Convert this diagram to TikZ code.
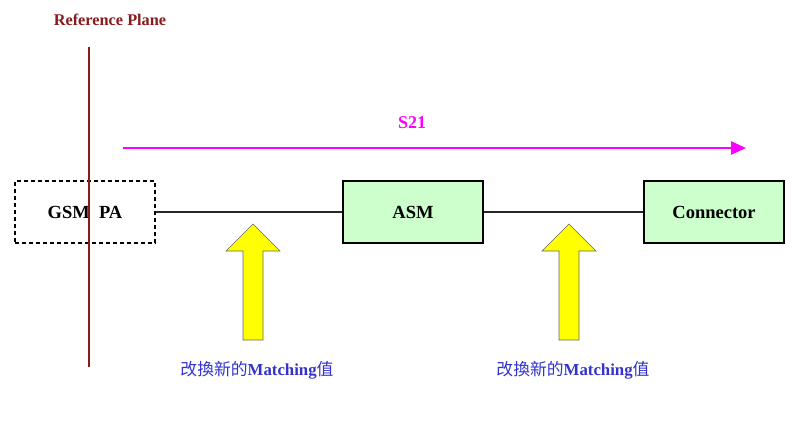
\documentclass[tikz,border=0pt]{standalone}
\usepackage{fontspec}
\setmainfont{Liberation Serif}
\newfontfamily\cjk{Noto Sans CJK TC}
\usetikzlibrary{arrows.meta}

\definecolor{planered}{RGB}{135,28,28}
\definecolor{boxgreen}{RGB}{204,255,204}
\definecolor{labelblue}{RGB}{51,51,204}
\definecolor{arrowyellow}{RGB}{255,255,0}
\definecolor{s21pink}{RGB}{255,0,255}

\begin{document}
\begin{tikzpicture}[x=1pt, y=-1pt]
	\tikzstyle{block} = [draw, line width=2.2pt, fill=boxgreen, minimum width=140pt, minimum height=62pt, inner sep=0pt, font=\fontsize{18.5}{20}\selectfont\bfseries]
	\tikzstyle{pabox} = [block, fill=white, dash pattern=on 4pt off 3pt]
	\tikzstyle{wire} = [line width=1.2pt, black!85]
	\tikzstyle{match} = [font=\fontsize{16.8}{18}\selectfont, text=labelblue, inner sep=0pt]
	\tikzstyle{push} = [fill=arrowyellow, draw=black!60, line width=0.6pt, line join=miter]
	\useasboundingbox (0,0) rectangle (800,429);
	% reference plane
	\node[text=planered, font=\fontsize{16.3}{18}\selectfont\bfseries, inner sep=0pt] (plane) at (110,20) {Reference Plane};
	\coordinate (rpT) at (89,47);
	\coordinate (rpB) at (89,367);
	% blocks
	\node[pabox] (PA) at (85,212) {GSM\ \ PA};
	\node[block] (ASM) at (413,212) {ASM};
	\node[block] (CON) at (714,212) {Connector};
	\draw [wire] (PA)--(ASM);
	\draw [wire] (ASM)--(CON);
	\draw [planered, line width=1.2pt] (rpT)--(rpB);
	% S21
	\node[text=s21pink, font=\fontsize{18}{20}\selectfont\bfseries, inner sep=0pt] (S21) at (412,123) {S21};
	\coordinate (s21a) at (123,148);
	\coordinate (s21b) at (746,148);
	\draw [s21pink, line width=2.6pt, -{Triangle[length=15pt, width=13pt]}] (s21a)--(s21b);
	% matching arrows
	\foreach \x/\n in {253/1, 569/2} {
		\draw [push] (\x-10,340) -- (\x-10,251) -- (\x-27,251) -- (\x,224) -- (\x+27,251) -- (\x+10,251) -- (\x+10,340) -- cycle;
		\node[match] (M\n) at (\x+4,370) {{\cjk 改換新的}\textbf{Matching}{\cjk 值}};
	}
\end{tikzpicture}
\end{document}
